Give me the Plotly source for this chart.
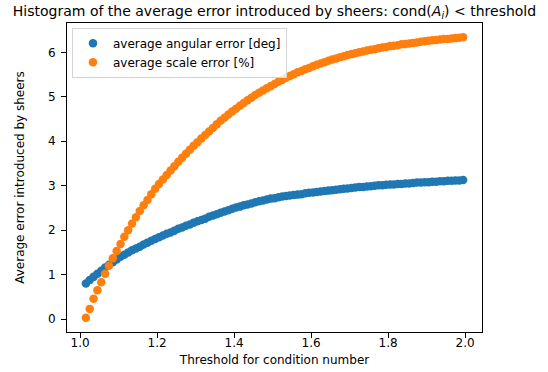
import plotly.graph_objects as go

thresholds = [1.015, 1.025, 1.035, 1.045, 1.055, 1.065, 1.075, 1.085, 1.095, 1.105,
              1.115, 1.125, 1.135, 1.145, 1.155, 1.165, 1.175, 1.185, 1.195, 1.205,
              1.215, 1.225, 1.235, 1.245, 1.255, 1.265, 1.275, 1.285, 1.295, 1.305,
              1.315, 1.325, 1.335, 1.345, 1.355, 1.365, 1.375, 1.385, 1.395, 1.405,
              1.415, 1.425, 1.435, 1.445, 1.455, 1.465, 1.475, 1.485, 1.495, 1.505,
              1.515, 1.525, 1.535, 1.545, 1.555, 1.565, 1.575, 1.585, 1.595, 1.605,
              1.615, 1.625, 1.635, 1.645, 1.655, 1.665, 1.675, 1.685, 1.695, 1.705,
              1.715, 1.725, 1.735, 1.745, 1.755, 1.765, 1.775, 1.785, 1.795, 1.805,
              1.815, 1.825, 1.835, 1.845, 1.855, 1.865, 1.875, 1.885, 1.895, 1.905,
              1.915, 1.925, 1.935, 1.945, 1.955, 1.965, 1.975, 1.985, 1.995]

angular_error = [0.80, 0.88, 0.95, 1.02, 1.09, 1.16, 1.22, 1.28, 1.34, 1.40,
                 1.45, 1.50, 1.55, 1.59, 1.63, 1.68, 1.72, 1.76, 1.80, 1.84,
                 1.88, 1.92, 1.95, 1.99, 2.03, 2.06, 2.10, 2.13, 2.17, 2.20,
                 2.23, 2.26, 2.30, 2.33, 2.36, 2.39, 2.42, 2.45, 2.48, 2.51,
                 2.53, 2.56, 2.58, 2.60, 2.63, 2.65, 2.67, 2.69, 2.71, 2.72,
                 2.74, 2.76, 2.77, 2.78, 2.79, 2.80, 2.81, 2.83, 2.84, 2.85,
                 2.86, 2.87, 2.88, 2.89, 2.90, 2.91, 2.92, 2.93, 2.94, 2.95,
                 2.96, 2.97, 2.97, 2.98, 2.99, 3.00, 3.01, 3.01, 3.02, 3.03,
                 3.03, 3.04, 3.04, 3.05, 3.05, 3.06, 3.07, 3.07, 3.08, 3.08,
                 3.09, 3.09, 3.10, 3.10, 3.11, 3.11, 3.12, 3.12, 3.13]

scale_error = [0.03, 0.23, 0.46, 0.65, 0.83, 1.02, 1.20, 1.37, 1.53, 1.69,
               1.85, 2.00, 2.15, 2.29, 2.43, 2.56, 2.68, 2.81, 2.93, 3.04,
               3.14, 3.24, 3.34, 3.44, 3.54, 3.63, 3.72, 3.81, 3.90, 3.98,
               4.06, 4.14, 4.22, 4.30, 4.38, 4.46, 4.53, 4.60, 4.67, 4.73,
               4.80, 4.86, 4.92, 4.98, 5.04, 5.09, 5.14, 5.19, 5.24, 5.29,
               5.34, 5.38, 5.43, 5.47, 5.51, 5.55, 5.58, 5.62, 5.65, 5.69,
               5.72, 5.75, 5.78, 5.81, 5.84, 5.86, 5.89, 5.91, 5.94, 5.96,
               5.98, 6.00, 6.02, 6.04, 6.06, 6.07, 6.09, 6.11, 6.12, 6.14,
               6.15, 6.16, 6.18, 6.19, 6.20, 6.21, 6.22, 6.24, 6.25, 6.26,
               6.27, 6.28, 6.29, 6.30, 6.30, 6.31, 6.32, 6.33, 6.34]

x_ticks = [1.0, 1.2, 1.4, 1.6, 1.8, 2.0]
x_tick_labels = ["1.0", "1.2", "1.4", "1.6", "1.8", "2.0"]
y_ticks = [0, 1, 2, 3, 4, 5, 6]

series_names = ["average angular error [deg]", "average scale error [%]"]
colors = ["#1f77b4", "#ff7f0e"]

FONT = "DejaVu Sans"
FS = 12

fig = go.Figure()
for name, vals, col in zip(series_names, [angular_error, scale_error], colors):
    fig.add_trace(go.Scatter(
        x=thresholds, y=vals, mode="markers", name=name,
        marker=dict(color=col, size=8.5, line=dict(width=0)),
    ))

axis_common = dict(
    showline=True, linecolor="black", linewidth=1, mirror=True,
    ticks="outside", ticklen=5, tickwidth=1, tickcolor="black",
    showgrid=False, zeroline=False, automargin=False,
    tickfont=dict(family=FONT, size=FS, color="black"),
)

fig.update_layout(
    width=548, height=372,
    margin=dict(l=67, r=66, t=23, b=40),
    paper_bgcolor="white", plot_bgcolor="white",
    font=dict(family=FONT, color="black"),
    title=dict(
        text="Histogram of the average error introduced by sheers: cond(<i>A</i><sub><i>i</i></sub>) &lt; threshold",
        x=0.5, xref="paper", xanchor="center",
        y=0.970, yref="container", yanchor="middle",
        font=dict(family=FONT, size=14, color="black"),
    ),
    xaxis=dict(
        range=[0.966, 2.044], tickvals=x_ticks, ticktext=x_tick_labels,
        ticklabelstandoff=-5,
        title=dict(text="Threshold for condition number", standoff=6,
                   font=dict(family=FONT, size=FS, color="black")),
        **axis_common,
    ),
    yaxis=dict(
        range=[-0.29, 6.66], tickvals=y_ticks, ticklabelstandoff=3,
        title=dict(text="Average error introduced by sheers", standoff=20,
                   font=dict(family=FONT, size=FS, color="black")),
        **axis_common,
    ),
    legend=dict(
        x=0.012, y=0.985, xanchor="left", yanchor="top",
        bgcolor="rgba(255,255,255,0.8)", bordercolor="#d5d5d5", borderwidth=1,
        font=dict(family=FONT, size=FS, color="black"),
        tracegroupgap=0, itemwidth=30,
    ),
    showlegend=True,
)

fig.write_html("out.html")
